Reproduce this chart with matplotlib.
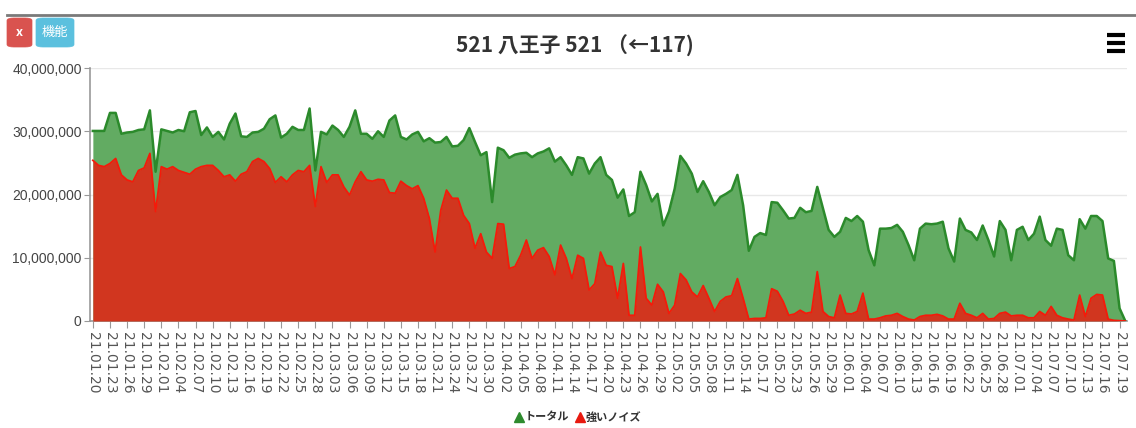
import matplotlib
matplotlib.use("Agg")
import matplotlib.pyplot as plt
from matplotlib.patches import FancyBboxPatch
from matplotlib.lines import Line2D
from matplotlib.ticker import FuncFormatter
import numpy as np
import pandas as pd

plt.rcParams['font.family'] = ['Liberation Sans', 'Noto Sans CJK JP', 'DejaVu Sans']

# ---- data (values in millions) ----
start_date = "2021-01-20"
n_points = 182
dates = pd.date_range(start_date, periods=n_points, freq="D")
categories = [d.strftime("%y.%m.%d") for d in dates]

total_m = [30.05, 30.05, 30.05, 32.9, 32.9, 29.6, 29.8, 29.9, 30.2, 30.3,
           33.3, 23.6, 30.3, 30.05, 29.8, 30.2, 30.0, 33.0, 33.2, 29.4,
           30.6, 29.1, 29.9, 28.7, 31.2, 32.8, 29.2, 29.1, 29.8, 29.9,
           30.4, 31.9, 32.5, 29.0, 29.6, 30.7, 30.2, 30.2, 33.6, 23.8,
           29.9, 29.5, 30.9, 30.2, 29.1, 30.7, 33.3, 29.6, 29.6, 28.8,
           30.0, 29.1, 31.7, 32.5, 29.1, 28.7, 29.5, 29.9, 28.4, 28.9,
           28.2, 28.3, 29.1, 27.6, 27.7, 28.6, 30.5, 28.3, 26.2, 26.7,
           18.8, 27.4, 27.0, 25.8, 26.3, 26.5, 26.6, 25.9, 26.5, 26.8,
           27.3, 25.2, 25.9, 24.6, 23.1, 25.9, 25.7, 23.3, 24.9, 25.9,
           23.1, 22.3, 19.5, 20.8, 16.6, 17.2, 23.6, 21.5, 18.9, 20.1,
           15.1, 17.3, 20.9, 26.1, 24.9, 23.3, 20.4, 22.1, 20.4, 18.3,
           19.6, 20.1, 20.7, 23.1, 18.3, 11.1, 13.3, 13.9, 13.6, 18.8,
           18.7, 17.5, 16.2, 16.3, 17.9, 17.2, 17.4, 21.2, 17.8, 14.4,
           13.3, 14.1, 16.3, 15.8, 16.6, 15.7, 11.2, 8.8, 14.6, 14.6,
           14.7, 15.2, 14.1, 12.0, 9.6, 14.6, 15.4, 15.3, 15.4, 15.7,
           11.5, 9.4, 16.2, 14.4, 14.0, 12.8, 15.1, 12.8, 10.2, 15.8,
           14.4, 9.6, 14.4, 14.9, 12.8, 13.8, 16.5, 12.8, 11.9, 14.6,
           14.4, 10.4, 9.6, 16.1, 14.6, 16.6, 16.6, 15.8, 9.9, 9.5,
           2.0, 0.0]

noise_m = [25.4, 24.6, 24.4, 24.9, 25.7, 23.1, 22.3, 22.0, 23.8, 24.2,
           26.5, 17.3, 24.4, 24.0, 24.4, 23.8, 23.5, 23.2, 24.0, 24.4,
           24.6, 24.6, 23.8, 22.8, 23.1, 22.1, 23.2, 23.6, 25.2, 25.7,
           25.2, 24.1, 21.9, 22.8, 22.0, 23.1, 23.8, 23.6, 24.6, 18.1,
           24.4, 21.9, 23.1, 23.1, 21.2, 19.9, 22.0, 23.6, 22.3, 22.1,
           22.4, 22.3, 20.3, 20.2, 22.1, 21.4, 20.9, 21.4, 19.4, 16.2,
           10.9, 17.5, 20.7, 19.4, 19.4, 16.7, 15.4, 11.5, 13.8, 10.9,
           9.9, 15.4, 15.3, 8.3, 8.6, 10.4, 12.8, 9.9, 11.2, 11.6,
           10.2, 7.3, 12.0, 9.9, 6.7, 10.4, 9.9, 4.9, 5.9, 10.9,
           8.8, 8.6, 3.6, 9.1, 0.9, 0.9, 11.7, 3.6, 2.5, 5.8,
           4.6, 1.2, 2.5, 7.5, 6.5, 4.6, 3.8, 5.6, 3.6, 1.5,
           3.1, 3.8, 4.0, 6.7, 3.6, 0.3, 0.4, 0.4, 0.5, 5.1,
           4.7, 3.1, 0.9, 1.1, 1.7, 1.2, 1.4, 7.8, 1.5, 0.7,
           0.5, 4.1, 1.2, 1.1, 1.5, 4.4, 0.3, 0.3, 0.5, 0.8,
           0.9, 1.2, 0.7, 0.3, 0.15, 0.7, 0.9, 0.9, 1.05, 0.8,
           0.3, 0.3, 2.8, 1.2, 0.9, 0.5, 1.2, 0.3, 0.4, 1.2,
           1.4, 0.8, 0.9, 0.9, 0.5, 0.5, 1.5, 0.9, 2.3, 0.9,
           0.5, 0.3, 0.15, 4.1, 0.7, 3.6, 4.2, 4.1, 0.3, 0.1,
           0.05, 0.0]

series_names = ["トータル", "強いノイズ"]
title_text = "521 八王子 521 （←117)"
y_ticks = [0, 10_000_000, 20_000_000, 30_000_000, 40_000_000]

total = np.array(total_m) * 1_000_000
noise = np.array(noise_m) * 1_000_000
x = np.arange(n_points)

# ---- figure ----
W, H = 1136, 428
fig = plt.figure(figsize=(W / 100, H / 100), dpi=100)
fig.patch.set_facecolor("white")

ax = fig.add_axes([90 / W, (H - 321) / H, (1127 - 90) / W, (321 - 68) / H])
ax.set_facecolor("white")

green_fill = "#62ab62"
green_line = "#2b8a2b"
red_fill = "#d1361f"
red_line = "#f51a0a"

ax.fill_between(x, 0, total, color=green_fill, linewidth=0, zorder=2)
ax.plot(x, total, color=green_line, linewidth=1.8, zorder=3)
ax.fill_between(x, 0, noise, color=red_fill, linewidth=0, zorder=4)
ax.plot(x, noise, color=red_line, linewidth=1.3, zorder=5)

ax.set_xlim(-0.5, 181.3)
ax.set_ylim(0, 40_000_000)

ax.set_yticks(y_ticks)
ax.yaxis.set_major_formatter(FuncFormatter(lambda v, p: f"{int(v):,}"))
ax.grid(axis="y", color="#e8e8e8", linewidth=1, zorder=0)
ax.set_axisbelow(True)

tick_idx = x[::3]
ax.set_xticks(tick_idx)
ax.set_xticklabels([categories[i] for i in tick_idx], rotation=-90,
                   fontsize=10, color="#555555", va="top", ha="center",
                   family=["DejaVu Sans"])

for s in ["top", "right"]:
    ax.spines[s].set_visible(False)
ax.spines["left"].set_color("#999999")
ax.spines["bottom"].set_color("#999999")
ax.spines["left"].set_linewidth(1.2)
ax.spines["bottom"].set_linewidth(1.2)
ax.tick_params(axis="y", length=4, color="#999999", labelsize=10,
               labelcolor="#444444", pad=2)
ax.tick_params(axis="x", length=5, color="#999999", pad=3)

# ---- title ----
fig.text(575 / W, 1 - 46 / H, title_text, ha="center", va="center",
         fontsize=15, fontweight="bold", color="#333333",
         family=["Noto Sans CJK JP", "DejaVu Sans"])

# ---- top line ----
fig.add_artist(Line2D([7 / W, 1.0], [1 - 15 / H, 1 - 15 / H],
                      transform=fig.transFigure, color="#7a7a7a", linewidth=2))

# ---- buttons ----
def button(x0, y0, x1, y1, color, label, fs, weight="normal"):
    p = FancyBboxPatch((x0 / W, 1 - y1 / H), (x1 - x0) / W, (y1 - y0) / H,
                       boxstyle="round,pad=0,rounding_size=0.006",
                       transform=fig.transFigure, facecolor=color,
                       edgecolor=color, linewidth=0.5)
    fig.add_artist(p)
    fig.text((x0 + x1) / 2 / W, 1 - (y0 + y1) / 2 / H, label, ha="center",
             va="center", color="white", fontsize=fs, fontweight=weight,
             family=["Noto Sans CJK JP", "DejaVu Sans"])

button(7, 18, 32, 47, "#d9534f", "x", 9, "bold")
button(36, 18, 74, 47, "#5bc0de", "機能", 9.5)

# ---- hamburger icon ----
for yy in (35, 43, 51):
    fig.add_artist(Line2D([1107 / W, 1125 / W], [1 - yy / H, 1 - yy / H],
                          transform=fig.transFigure, color="black",
                          linewidth=3, solid_capstyle="butt"))

# ---- legend ----
handles = [Line2D([], [], linestyle="none", marker="^", markersize=7,
                  color="#2e8b2e"),
           Line2D([], [], linestyle="none", marker="^", markersize=7,
                  color="#e8190f")]
leg = fig.legend(handles, series_names, loc="center",
                 bbox_to_anchor=(577 / W, 1 - 417 / H), ncol=2, frameon=False,
                 prop={"family": ["Noto Sans CJK JP", "DejaVu Sans"],
                       "size": 8, "weight": "bold"},
                 handletextpad=0.0, columnspacing=0.5, handlelength=1.0)
for t in leg.get_texts():
    t.set_color("#333333")

fig.savefig("out.png", dpi=100, facecolor="white")
